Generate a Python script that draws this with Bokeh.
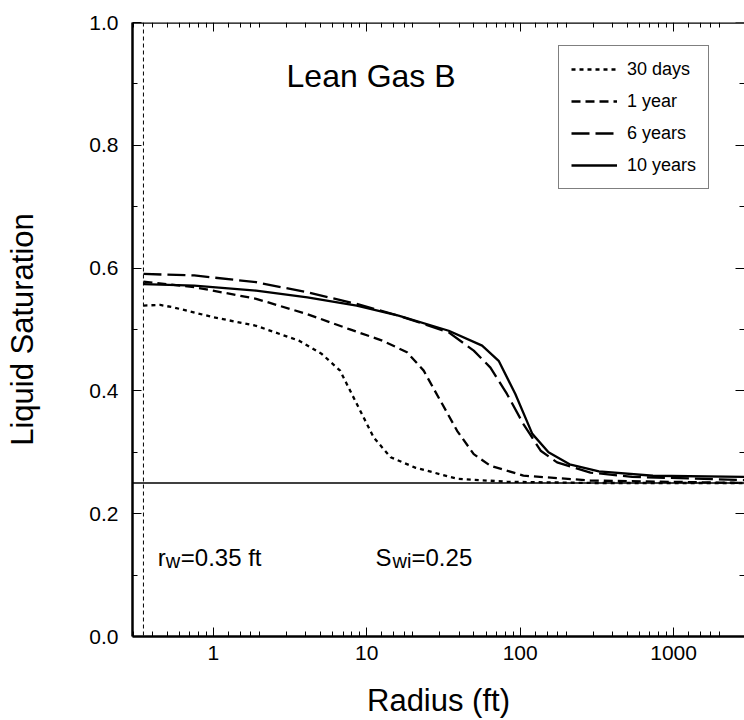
from bokeh.plotting import figure
from bokeh.models import (LogAxis, LinearAxis, FixedTicker, NumeralTickFormatter,
                          CustomJSTickFormatter, Span, Legend, LegendItem, Range1d)
from bokeh.core.properties import value
from bokeh.embed import file_html
from bokeh.resources import INLINE

FONT = "Liberation Sans"

# ---- data ----
r_30d = [0.35, 0.45, 0.55, 1.0, 1.9, 3.6, 5.1, 6.7, 8.6, 11.1, 14.3, 20.7, 38.8, 82, 300, 2900]
s_30d = [0.539, 0.540, 0.536, 0.520, 0.506, 0.482, 0.460, 0.433, 0.379, 0.324, 0.292, 0.275, 0.257, 0.252, 0.250, 0.250]

r_1y = [0.35, 0.75, 1.9, 4.1, 7.6, 12.6, 18.3, 23.5, 30.2, 38.8, 49.8, 64, 105, 287, 2900]
s_1y = [0.578, 0.569, 0.550, 0.525, 0.501, 0.482, 0.463, 0.433, 0.384, 0.335, 0.297, 0.278, 0.262, 0.254, 0.250]

r_6y = [0.35, 0.75, 1.9, 4.1, 8.6, 16.1, 34.2, 49.8, 64, 82, 105, 136, 174, 287, 537, 2900]
s_6y = [0.5905, 0.588, 0.577, 0.5605, 0.5416, 0.5226, 0.4954, 0.4655, 0.438, 0.395, 0.346, 0.3026, 0.2836, 0.267, 0.260, 0.2548]

r_10y = [0.35, 0.75, 1.9, 4.1, 8.6, 16.1, 34.2, 56.5, 72.4, 93, 120, 153, 210, 326, 734, 2900]
s_10y = [0.574, 0.5714, 0.5632, 0.5524, 0.539, 0.5226, 0.498, 0.4737, 0.449, 0.395, 0.330, 0.300, 0.2804, 0.269, 0.2618, 0.260]

series_labels = ["30 days", "1 year", "6 years", "10 years"]
rw = 0.35
swi = 0.25

x_major = [1, 10, 100, 1000]
x_minor_mult = [1.25, 1.5, 1.75, 2, 3, 4, 5, 6, 7, 8, 9]
x_decades = [0.1, 1, 10, 100, 1000]
y_major = [0.0, 0.2, 0.4, 0.6, 0.8, 1.0]
y_minor = [0.1, 0.3, 0.5, 0.7, 0.9]

X0, X1 = 0.297, 2900
Y0, Y1 = 0.0, 1.0

p = figure(width=744, height=720, x_axis_type="log",
           x_range=Range1d(X0, X1), y_range=Range1d(Y0, Y1),
           output_backend="svg", toolbar_location=None,
           min_border_left=132, min_border_right=0,
           min_border_top=22, min_border_bottom=84)
p.background_fill_color = "white"
p.border_fill_color = "white"
p.outline_line_color = None
p.xgrid.grid_line_color = None
p.ygrid.grid_line_color = None

x_minor = [m * d for d in x_decades for m in x_minor_mult if X0 < m * d < X1]
xticker = FixedTicker(ticks=x_major, minor_ticks=x_minor)
yticker = FixedTicker(ticks=y_major, minor_ticks=y_minor)


def style(ax):
    ax.axis_line_color = "black"
    ax.axis_line_width = 2.5
    ax.major_tick_in = 9
    ax.major_tick_out = 0
    ax.minor_tick_in = 5
    ax.minor_tick_out = 0
    ax.major_tick_line_color = "black"
    ax.minor_tick_line_color = "black"
    ax.major_tick_line_width = 1
    ax.minor_tick_line_width = 1
    ax.major_label_text_font = FONT
    ax.major_label_text_color = "black"
    ax.axis_label_text_font = FONT
    ax.axis_label_text_font_style = "normal"
    ax.axis_label_text_color = "black"


xa = p.xaxis[0]
xa.ticker = xticker
xa.formatter = NumeralTickFormatter(format="0")
style(xa)
xa.major_label_text_font_size = "21px"
xa.major_label_standoff = 9
xa.axis_label = "Radius (ft)"
xa.axis_label_text_font_size = "31px"
xa.axis_label_standoff = 20

ya = p.yaxis[0]
ya.ticker = yticker
ya.formatter = NumeralTickFormatter(format="0.0")
style(ya)
ya.major_label_text_font_size = "21px"
ya.major_label_standoff = 14
ya.axis_label = "Liquid Saturation"
ya.axis_label_text_font_size = "31px"
ya.axis_label_standoff = 46

blank = CustomJSTickFormatter(code="return ''")

top = LogAxis(ticker=xticker, formatter=blank, fixed_location=Y1)
style(top)
top.major_label_text_alpha = 0
p.add_layout(top, "above")

right = LinearAxis(ticker=yticker, formatter=blank, fixed_location=X1)
style(right)
right.axis_line_color = None
right.major_label_text_alpha = 0
p.add_layout(right, "right")

# reference lines
p.add_layout(Span(location=swi, dimension="width", line_color="black", line_width=1.3))
p.add_layout(Span(location=rw, dimension="height", line_color="black",
                  line_width=1, line_dash="4 3"))

series = [(r_30d, s_30d, "4 4"), (r_1y, s_1y, "9 5"), (r_6y, s_6y, "18 6"), (r_10y, s_10y, "solid")]
items = []
for (xs, ys, dash), lab in zip(series, series_labels):
    rr = p.line(xs, ys, line_color="black", line_width=2.3, line_dash=dash)
    items.append(LegendItem(label=lab, renderers=[rr]))

legend = Legend(items=items, location=(426, 447))
legend.label_text_font = FONT
legend.label_text_font_size = "18px"
legend.label_text_color = "black"
legend.glyph_width = 46
legend.glyph_height = 22
legend.label_height = 22
legend.label_standoff = 10
legend.spacing = 10
legend.padding = 12
legend.margin = 0
legend.border_line_color = "black"
legend.border_line_width = 1
legend.background_fill_color = "white"
legend.background_fill_alpha = 1
p.add_layout(legend, "center")

# annotations
p.text(x=[3.0], y=[0.9125], text=["Lean Gas B"], text_font=value(FONT),
       text_font_size="32px", text_baseline="alphabetic", text_align="left", text_color="black")

ann_y = 0.128
p.text(x=[0.434], y=[ann_y], text=["r"], text_font=value(FONT), text_font_size="24px",
       text_baseline="alphabetic", text_align="left", text_color="black")
p.text(x=[0.434], y=[ann_y], text=["w"], text_font=value(FONT), text_font_size="20px",
       text_baseline="alphabetic", text_align="left", text_color="black", x_offset=8, y_offset=3)
p.text(x=[0.434], y=[ann_y], text=["=0.35 ft"], text_font=value(FONT), text_font_size="24px",
       text_baseline="alphabetic", text_align="left", text_color="black", x_offset=23)

p.text(x=[11.4], y=[ann_y], text=["S"], text_font=value(FONT), text_font_size="24px",
       text_baseline="alphabetic", text_align="left", text_color="black")
p.text(x=[11.4], y=[ann_y], text=["wi"], text_font=value(FONT), text_font_size="20px",
       text_baseline="alphabetic", text_align="left", text_color="black", x_offset=17, y_offset=3)
p.text(x=[11.4], y=[ann_y], text=["=0.25"], text_font=value(FONT), text_font_size="24px",
       text_baseline="alphabetic", text_align="left", text_color="black", x_offset=36)

open("out.html", "w").write(file_html(p, INLINE))
